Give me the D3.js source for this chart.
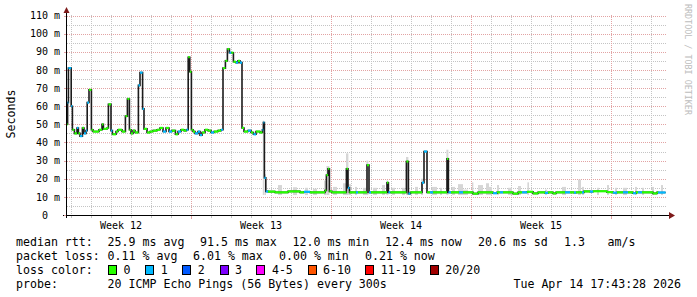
<!DOCTYPE html>
<html>
<head>
<meta charset="utf-8">
<script src="https://cdn.jsdelivr.net/npm/d3@7"></script>
<style>
  body { margin: 0; background: #fff; }
  text { font-family: 'DejaVu Sans Mono', monospace; }
</style>
</head>
<body>
<div id="chart"></div>
<script>
// median rtt per step: day offset from chart start, value in ms, lost pings
const medianDay = [
  0.00, 0.03, 0.07, 0.21, 0.27, 0.37, 0.50, 0.57, 0.65, 0.77, 0.85, 0.95,
  1.01, 1.10, 1.22, 1.30, 1.60, 1.75, 1.82, 2.00, 2.07, 2.20, 2.27, 2.45,
  2.55, 2.75, 2.92, 3.02, 3.12, 3.20, 3.30, 3.40, 3.57, 3.65, 3.78, 3.85,
  4.00, 4.15, 4.30, 4.50, 4.65, 4.80, 4.95, 5.10, 5.25, 5.42, 5.55, 5.70,
  5.85, 5.97, 6.06, 6.14, 6.22, 6.30, 6.40, 6.55, 6.65, 6.75, 6.90, 7.05,
  7.20, 7.35, 7.55, 7.70, 7.80, 7.92, 8.02, 8.12, 8.22, 8.32, 8.45, 8.55,
  8.65, 8.75, 8.85, 9.05, 9.20, 9.32, 9.45, 9.65, 9.77, 9.82, 9.87, 9.94,
  10.05, 10.40, 11.05, 11.65, 11.85, 12.15, 12.90, 12.97, 13.05, 13.12, 13.25, 13.97,
  14.05, 14.12, 14.45, 14.55, 15.00, 15.10, 15.20, 16.00, 16.07, 16.17, 16.97, 17.07,
  17.17, 17.75, 17.85, 18.00, 18.15, 18.30, 19.00, 19.07, 19.20, 19.60, 19.80, 20.30,
  20.55, 21.30, 21.50, 21.65, 21.80, 22.30, 22.55, 22.75, 23.00, 23.30, 23.55, 23.90,
  24.05, 24.30, 24.45, 24.90, 25.15, 25.35, 25.45, 25.75, 25.85, 26.15, 26.30, 27.00,
  27.30, 27.50, 27.80, 28.05, 28.30, 28.45, 28.55, 28.75, 29.30, 29.50, 29.55, 29.93
]
const medianMs = [
  50, 62, 81, 60, 47, 45, 48, 45, 43.5, 48, 45, 46.5,
  62, 69, 47, 46, 47, 50, 47.5, 48, 61, 46.5, 44.5, 46,
  47, 46, 54.5, 64, 47, 45, 46.5, 45.5, 71.5, 78.5, 58.5, 47.5,
  45.5, 46, 46.5, 47, 48, 46, 48, 46, 46.5, 44.5, 46, 47,
  46.5, 47, 87, 79, 47, 46, 45, 46, 44, 45.5, 47, 46.5,
  45.5, 46, 46.5, 47, 81, 85, 91.5, 89.5, 89.5, 84.5, 84, 85,
  84, 48, 46, 46.5, 45.5, 44.5, 46, 45.5, 47, 51, 20.5, 13,
  12.9, 12.5, 13, 12.5, 12.8, 12.5, 13.5, 22, 25.5, 13, 12.5, 25.5,
  15, 12.5, 12.5, 12.5, 27.5, 12.5, 12.5, 17.8, 12.5, 12.5, 29.5, 11.8,
  12.5, 17.8, 35, 12.5, 12.5, 12.5, 31, 12.5, 12.5, 12.5, 12.5, 11.8,
  12.5, 12.0, 12.5, 12.5, 12.5, 11.8, 12.5, 12.5, 12.8, 11.9, 12.5, 12.2,
  12.5, 11.9, 12.5, 12.5, 12.5, 12.3, 12.5, 12.5, 13.0, 12.9, 13.1, 12.6,
  12.3, 12.5, 12.5, 12.5, 12.0, 12.5, 12.5, 12.5, 11.9, 12.5, 12.4, 12.4
]
const medianLoss = [
  0, 1, 1, 1, 0, 0, 1, 0, 1, 0, 1, 1,
  1, 0, 0, 0, 0, 0, 0, 0, 0, 1, 0, 0,
  0, 0, 0, 0, 0, 0, 0, 0, 1, 1, 1, 0,
  0, 0, 0, 0, 0, 1, 0, 1, 0, 0, 1, 0,
  0, 1, 0, 0, 0, 0, 1, 1, 1, 0, 0, 0,
  1, 0, 0, 1, 0, 0, 0, 1, 0, 0, 1, 0,
  1, 0, 0, 1, 0, 1, 0, 0, 1, 1, 1, 1,
  0, 0, 0, 0, 1, 0, 0, 0, 0, 0, 0, 0,
  1, 0, 1, 0, 0, 1, 0, 0, 1, 0, 0, 1,
  0, 1, 1, 0, 1, 0, 0, 1, 0, 1, 0, 0,
  0, 1, 0, 1, 0, 0, 0, 1, 0, 0, 0, 1,
  0, 0, 0, 1, 0, 1, 0, 1, 0, 1, 0, 0,
  1, 0, 1, 0, 1, 0, 1, 0, 0, 0, 1, 1
]

// smoke (spread of the 20 pings): start day, end day, top in ms
const smokeStart = [
  9.79, 9.87, 10.55, 11.30, 11.90, 12.30, 12.85, 12.97, 13.30, 13.80, 13.95, 14.07,
  14.40, 14.80, 14.97, 15.30, 15.75, 15.97, 16.25, 16.75, 16.95, 17.40, 17.70, 18.25,
  18.65, 18.97, 19.25, 19.55, 19.80, 20.25, 20.55, 20.95, 21.10, 21.50, 22.05, 22.55,
  23.02, 23.90, 24.75, 25.55, 25.75, 26.50, 27.00, 27.40, 27.80, 28.40, 28.75, 29.25,
  29.70
]
const smokeEnd = [
  9.85, 9.95, 10.75, 11.50, 12.05, 12.50, 12.97, 13.12, 13.50, 13.95, 14.07, 14.20,
  14.50, 15.00, 15.07, 15.50, 15.90, 16.07, 16.40, 16.90, 17.07, 17.55, 17.80, 18.50,
  18.75, 19.07, 19.40, 19.80, 20.05, 20.32, 20.80, 21.10, 21.25, 21.60, 22.25, 22.70,
  23.10, 24.00, 24.95, 25.70, 25.85, 26.60, 27.10, 27.50, 28.00, 28.50, 28.85, 29.35,
  29.80
]
const smokeTop = [
  52, 22.5, 16.5, 15.3, 15, 14.5, 19, 27, 15.5, 17.5, 34, 17,
  15.5, 15, 30, 15, 16.5, 19, 15, 15, 32, 15.5, 20, 15.5,
  15, 36, 15.5, 17, 14, 18, 16.5, 17.5, 15.5, 16.5, 15, 16,
  18, 14, 15.5, 19.5, 15.5, 15, 16.5, 15, 15, 15.5, 15, 15.5,
  16.5
]

const yTicks = [0, 10, 20, 30, 40, 50, 60, 70, 80, 90, 100, 110]
const yTickLabels = ['0  ', '10 m', '20 m', '30 m', '40 m', '50 m', '60 m', '70 m', '80 m', '90 m', '100 m', '110 m']
const weekLabels = ['Week 12', 'Week 13', 'Week 14', 'Week 15']

const lossLabels = ['0', '1', '2', '3', '4-5', '6-10', '11-19', '20/20']
const lossColors = ['#26ff00', '#00b8ff', '#0059ff', '#7e00ff', '#ff00ff', '#ff5500', '#ff0000', '#a10000']

const rttLabel = 'median rtt:'
const rttStats = ['25.9 ms avg', '91.5 ms max', '12.0 ms min', '12.4 ms now', '20.6 ms sd', '1.3', 'am/s']
const lossLabel = 'packet loss:'
const lossStats = ['0.11 % avg', '6.01 % max', '0.00 % min', '0.21 % now']
const probeLabel = 'probe:'
const probeText = '20 ICMP Echo Pings (56 Bytes) every 300s'
const stamp = 'Tue Apr 14 17:43:28 2026'

const start = new Date(Date.UTC(2026, 2, 16, 19, 12))
const end = d3.utcDay.offset(start, 30)
const toDate = d => new Date(+start + d * 864e5)

const width = 697, height = 297
const svg = d3.select('#chart').append('svg')
  .attr('width', width).attr('height', height)
svg.append('rect').attr('width', width).attr('height', height).attr('fill', '#fff')

const x = d3.scaleTime().domain([start, end]).range([67, 667])
const y = d3.scaleLinear().domain([0, 110]).range([215, 15.5])

const gridColor = '#c4c4c4'
const mgridColor = '#e2a3a3'

/** grid */
const grid = svg.append('g').attr('shape-rendering', 'crispEdges')
  .attr('stroke-dasharray', '1,1').attr('stroke-width', 1)

const mondays = d3.utcMonday.range(start, end)
const days = d3.utcDay.range(start, end).filter(d => d.getUTCDay() !== 1)
const minorY = d3.range(5, 111, 10)

grid.selectAll('.hminor').data(minorY).join('line')
  .attr('x1', 67).attr('x2', 667)
  .attr('y1', d => Math.round(y(d)) + 0.5).attr('y2', d => Math.round(y(d)) + 0.5)
  .attr('stroke', gridColor)
grid.selectAll('.vminor').data(days).join('line')
  .attr('x1', d => Math.round(x(d)) + 0.5).attr('x2', d => Math.round(x(d)) + 0.5)
  .attr('y1', 15).attr('y2', 215)
  .attr('stroke', gridColor)
grid.selectAll('.hmajor').data(yTicks.slice(1)).join('line')
  .attr('x1', 67).attr('x2', 667)
  .attr('y1', d => Math.round(y(d)) + 0.5).attr('y2', d => Math.round(y(d)) + 0.5)
  .attr('stroke', mgridColor)
grid.selectAll('.vmajor').data(mondays).join('line')
  .attr('x1', d => Math.round(x(d)) + 0.5).attr('x2', d => Math.round(x(d)) + 0.5)
  .attr('y1', 15).attr('y2', 215)
  .attr('stroke', mgridColor)

/** smoke */
svg.append('g').selectAll('rect')
  .data(smokeStart.map((s, i) => ({ s, e: smokeEnd[i], top: smokeTop[i] })))
  .join('rect')
  .attr('x', d => x(toDate(d.s)))
  .attr('width', d => x(toDate(d.e)) - x(toDate(d.s)))
  .attr('y', d => y(d.top))
  .attr('height', d => y(11) - y(d.top))
  .attr('fill', '#d6d6d6')

/** median */
const points = medianDay.map((d, i) => ({ t: toDate(d), v: medianMs[i], loss: medianLoss[i] }))
const stepLine = d3.line().x(d => x(d.t)).y(d => y(d.v)).curve(d3.curveStepAfter)
svg.append('path').datum(points)
  .attr('d', stepLine)
  .attr('fill', 'none').attr('stroke', '#1c1c1c').attr('stroke-width', 1.6)

svg.append('g').selectAll('line')
  .data(d3.pairs(points))
  .join('line')
  .attr('x1', ([a]) => x(a.t)).attr('x2', ([, b]) => x(b.t))
  .attr('y1', ([a]) => y(a.v)).attr('y2', ([a]) => y(a.v))
  .attr('stroke', ([a]) => lossColors[a.loss]).attr('stroke-width', 2.2)

/** axes */
const axis = svg.append('g').attr('shape-rendering', 'crispEdges')
axis.append('line').attr('x1', 63).attr('x2', 669).attr('y1', 215.5).attr('y2', 215.5).attr('stroke', '#000')
axis.append('line').attr('x1', 66.5).attr('x2', 66.5).attr('y1', 218).attr('y2', 12).attr('stroke', '#000')
axis.selectAll('.ty').data(yTicks).join('line')
  .attr('x1', 64).attr('x2', 66)
  .attr('y1', d => Math.round(y(d)) + 0.5).attr('y2', d => Math.round(y(d)) + 0.5)
  .attr('stroke', mgridColor)
axis.selectAll('.tx').data(days).join('line')
  .attr('x1', d => Math.round(x(d)) + 0.5).attr('x2', d => Math.round(x(d)) + 0.5)
  .attr('y1', 216).attr('y2', 218)
  .attr('stroke', gridColor)
axis.selectAll('.txm').data(mondays).join('line')
  .attr('x1', d => Math.round(x(d)) + 0.5).attr('x2', d => Math.round(x(d)) + 0.5)
  .attr('y1', 216).attr('y2', 219)
  .attr('stroke', mgridColor)

const arrowColor = '#7d1a1a'
svg.append('path').attr('d', 'M63.5,13 L69.5,13 L66.5,7 Z').attr('fill', arrowColor)
svg.append('path').attr('d', 'M669,212 L669,219 L675,215.5 Z').attr('fill', arrowColor)

/** labels */
svg.append('g').selectAll('text').data(yTicks).join('text')
  .attr('x', 60).attr('y', d => y(d) + 3.7)
  .attr('text-anchor', 'end').attr('font-size', '10px').attr('xml:space', 'preserve')
  .attr('fill', '#000')
  .text((d, i) => yTickLabels[i])

const weekMid = weekLabels.map((w, i) => d3.utcHour.offset(d3.utcMonday.offset(d3.utcMonday.floor(start), i), 84))
svg.append('g').selectAll('text').data(weekLabels).join('text')
  .attr('x', (d, i) => x(weekMid[i])).attr('y', 228.5)
  .attr('text-anchor', 'middle').attr('font-size', '10px')
  .text(d => d)

svg.append('text')
  .attr('transform', 'translate(15, 114) rotate(-90)')
  .attr('text-anchor', 'middle').attr('font-size', '11.6px')
  .text('Seconds')

svg.append('text')
  .attr('transform', 'translate(684.5, 4) rotate(90)')
  .attr('font-size', '8.4px').attr('fill', '#bdbdbd')
  .text('RRDTOOL / TOBI OETIKER')

/** legend */
const legend = svg.append('g').attr('font-size', '11.6px').attr('fill', '#000')
const rowY = [245.5, 259.5, 273.5, 287.5]
legend.append('text').attr('x', 16).attr('y', rowY[0]).text(rttLabel)
const rttX = [107.6, 200, 292.5, 385, 478, 564, 607.6]
legend.selectAll('.rtt').data(rttStats).join('text')
  .attr('x', (d, i) => rttX[i]).attr('y', rowY[0]).text(d => d)

legend.append('text').attr('x', 16).attr('y', rowY[1]).text(lossLabel)
const lossX = [107.6, 193, 279, 365]
legend.selectAll('.loss').data(lossStats).join('text')
  .attr('x', (d, i) => lossX[i]).attr('y', rowY[1]).text(d => d)

legend.append('text').attr('x', 16).attr('y', rowY[2]).text('loss color:')
const boxX = [108, 145.3, 182.2, 219.6, 256.4, 307.6, 365.3, 429.8]
const item = legend.selectAll('.item').data(lossLabels).join('g')
  .attr('transform', (d, i) => `translate(${boxX[i]}, ${rowY[2] - 9})`)
item.append('rect').attr('x', 0.5).attr('y', 0.5).attr('width', 8).attr('height', 9)
  .attr('fill', (d, i) => lossColors[i]).attr('stroke', '#000').attr('stroke-width', 1)
  .attr('shape-rendering', 'crispEdges')
item.append('text').attr('x', 15.5).attr('y', 9).text(d => d)

legend.append('text').attr('x', 16).attr('y', rowY[3]).text(probeLabel)
legend.append('text').attr('x', 107.6).attr('y', rowY[3]).text(probeText)
legend.append('text').attr('x', 681).attr('y', rowY[3]).attr('text-anchor', 'end').text(stamp)
</script>
</body>
</html>
